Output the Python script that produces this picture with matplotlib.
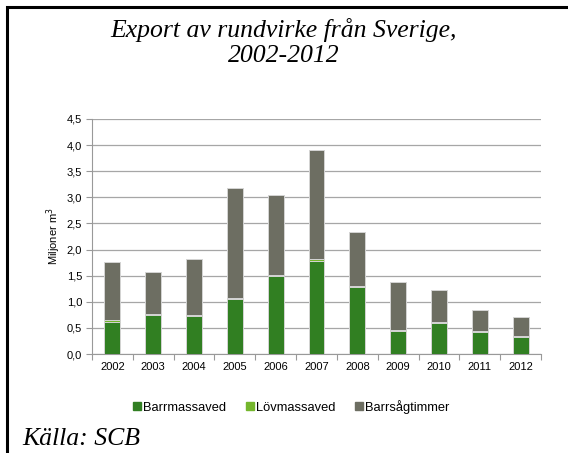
import matplotlib
matplotlib.use("Agg")
import matplotlib.pyplot as plt
from matplotlib.lines import Line2D
import numpy as np

years = ["2002", "2003", "2004", "2005", "2006", "2007", "2008", "2009", "2010", "2011", "2012"]
barrmassaved = [0.62, 0.74, 0.72, 1.06, 1.50, 1.78, 1.29, 0.45, 0.60, 0.43, 0.33]
lovmassaved = [0.03, 0.03, 0.02, 0.01, 0.01, 0.03, 0.01, 0.01, 0.01, 0.02, 0.01]
barrsagtimmer = [1.11, 0.80, 1.07, 2.10, 1.54, 2.10, 1.04, 0.91, 0.61, 0.39, 0.36]
series_names = ["Barrmassaved", "Lövmassaved", "Barrsågtimmer"]
colors = ["#317f22", "#74b62c", "#6d6e62"]
yticks = [0.0, 0.5, 1.0, 1.5, 2.0, 2.5, 3.0, 3.5, 4.0, 4.5]

W, H = 568, 453
fig = plt.figure(figsize=(W / 100, H / 100), dpi=100)
ax = fig.add_axes([92 / W, 1 - 354 / H, (541 - 92) / W, (354 - 119) / H])

x = np.arange(len(years))
bottom = np.zeros(len(years))
for vals, col in zip([barrmassaved, lovmassaved, barrsagtimmer], colors):
    ax.bar(x, vals, width=0.39, bottom=bottom, color=col, edgecolor="#d4d4d4",
           linewidth=0.7, zorder=3)
    bottom = bottom + np.array(vals)

ax.set_xlim(-0.5, len(years) - 0.5)
ax.set_ylim(0, 4.5)
ax.set_yticks(yticks)
ax.set_yticklabels([f"{v:.1f}".replace(".", ",") for v in yticks],
                   fontsize=8, family="Liberation Sans")
ax.set_xticks(x)
ax.set_xticklabels(years, fontsize=8, family="Liberation Sans")
ax.set_xticks(np.arange(-0.5, len(years)), minor=True)
ax.tick_params(axis="x", which="major", length=0, pad=6)
ax.tick_params(axis="x", which="minor", length=4, color="#999999", width=0.8)
ax.tick_params(axis="y", length=4, color="#999999", width=0.8, pad=3)

ax.grid(axis="y", color="#a6a6a6", linewidth=0.9, zorder=0)
ax.set_axisbelow(True)
for s in ["top", "right"]:
    ax.spines[s].set_visible(False)
ax.spines["left"].set_color("#999999")
ax.spines["bottom"].set_color("#999999")
ax.spines["left"].set_linewidth(0.8)
ax.spines["bottom"].set_linewidth(0.8)

ax.set_ylabel("Miljoner m$^3$", fontsize=8, family="Liberation Sans", labelpad=3)

handles = [Line2D([], [], marker="s", linestyle="none", markersize=5.2,
                  markerfacecolor=c, markeredgecolor=c) for c in colors]
fig.legend(handles, series_names, loc="center", bbox_to_anchor=(290 / W, 1 - 407 / H),
           ncol=3, frameon=False, prop={"family": "Liberation Sans", "size": 9.3},
           handletextpad=0.0, columnspacing=1.3, handlelength=1.0)

fig.text(284 / W, 1 - 30 / H, "Export av rundvirke från Sverige,", ha="center", va="center",
         fontsize=18.5, family="Liberation Serif", style="italic")
fig.text(284 / W, 1 - 56 / H, "2002-2012", ha="center", va="center",
         fontsize=18.5, family="Liberation Serif", style="italic")
fig.text(22 / W, 1 - 439 / H, "Källa: SCB", ha="left", va="center",
         fontsize=18.5, family="Liberation Serif", style="italic")

border = Line2D([7 / W, 7 / W, 1.0], [0.0, 1 - 7 / H, 1 - 7 / H], transform=fig.transFigure,
                color="black", linewidth=2.2, solid_joinstyle="miter")
fig.add_artist(border)

fig.savefig("out.png", dpi=100)
